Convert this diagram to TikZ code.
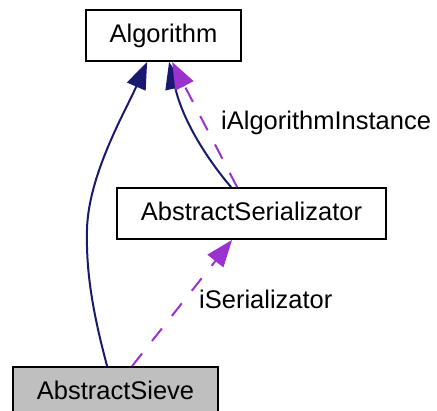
\documentclass[tikz,border=0pt]{standalone}
\usepackage{fontspec}
\setmainfont{Liberation Sans}
\usetikzlibrary{arrows.meta,calc}
\definecolor{edgenavy}{HTML}{191970}
\definecolor{edgepurple}{HTML}{9A32CD}
\definecolor{sievegray}{HTML}{BFBFBF}
\begin{document}
\begin{tikzpicture}[x=1pt,y=-1pt,
  classbox/.style={draw=black,line width=1.8pt,fill=white,inner sep=0pt,
    minimum height=51pt,text height=18.6pt,text depth=5.3pt,
    font=\fontsize{25.5}{30}\selectfont},
  edgelabel/.style={inner sep=0pt,anchor=base west,font=\fontsize{25.5}{30}\selectfont},
  headtip/.style={-{Triangle[length=27pt,width=20pt]}},
  inherit/.style={draw=edgenavy,line width=2pt,headtip,color=edgenavy},
  usage/.style={draw=edgepurple,line width=2pt,headtip,color=edgepurple,
    dash pattern=on 16pt off 16pt}]
\useasboundingbox (0,0) rectangle (437,411);

% classes
\node[classbox,minimum width=155pt] (alg) at (163.5,35.5) {Algorithm};
\node[classbox,minimum width=269pt] (ser) at (251.5,213.5) {AbstractSerializator};
\node[classbox,fill=sievegray,minimum width=205pt] (sieve) at (115.5,392.5) {AbstractSieve};

% inheritance
\draw[inherit] ($(sieve.north west)+(95,0)$)
  .. controls (92,310) and (86,270) .. (87,230)
  .. controls (88,175) and (126,110) .. ($(alg.south west)+(62,0)$);
\draw[inherit] ($(ser.north west)+(115,0)$)
  .. controls (212,165) and (184,125) .. ($(alg.south west)+(84,0)$);

% usage relations
\draw[usage] ($(ser.north west)+(121,0)$) -- ($(alg.south west)+(87,0)$);
\draw[usage] ($(sieve.north west)+(120,0)$) -- ($(ser.south west)+(116,0)$);

% member names
\node[edgelabel] (lblalg) at (221,130) {iAlgorithmInstance};
\node[edgelabel] (lblser) at (199,309) {iSerializator};
\end{tikzpicture}
\end{document}
